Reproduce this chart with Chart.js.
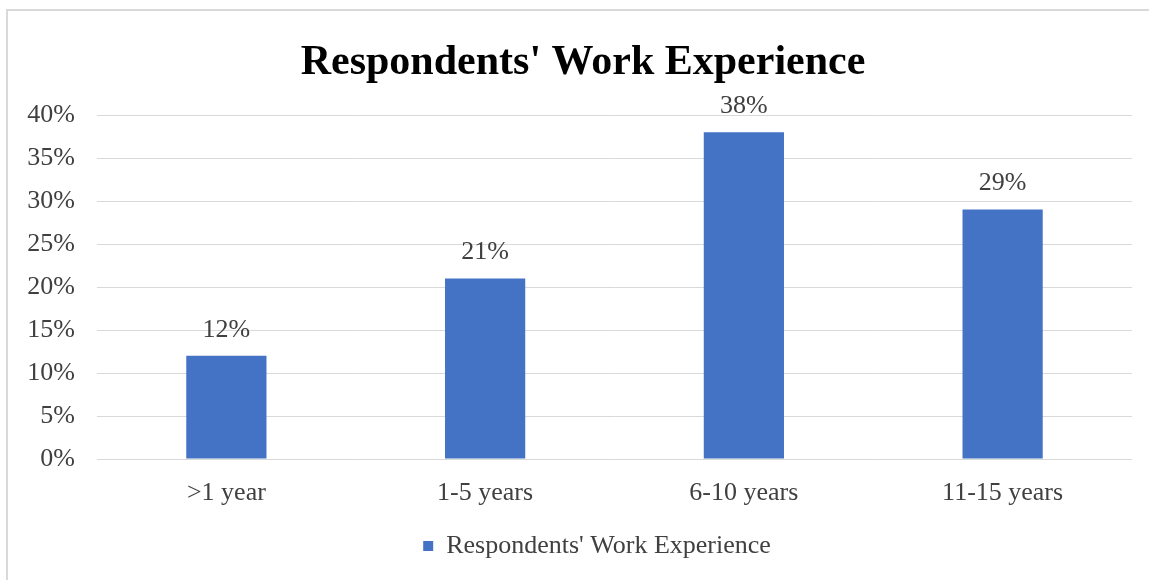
<!DOCTYPE html>
<html>
<head>
<meta charset="utf-8">
<script src="https://cdn.jsdelivr.net/npm/chart.js@4.4.1/dist/chart.umd.min.js"></script>
<style>
html,body{margin:0;padding:0;background:#fff;}
#frame{position:absolute;left:6px;top:9px;width:1143px;height:571px;border:2px solid #d9d9d9;border-right:none;border-bottom:none;box-sizing:border-box;}
#wrap{position:absolute;left:0;top:0;width:1149px;height:580px;}
</style>
</head>
<body>
<div id="frame"></div>
<div id="wrap"><canvas id="c" width="1149" height="580"></canvas></div>
<script>
const categories = [">1 year", "1-5 years", "6-10 years", "11-15 years"];
const values = [12, 21, 38, 29];
const seriesName = "Respondents' Work Experience";
const chartTitle = "Respondents' Work Experience";
const yTicks = [0, 5, 10, 15, 20, 25, 30, 35, 40];

const SERIF = "'Liberation Serif', 'Times New Roman', serif";
const TEXT = '#404040';

const dataLabels = {
  id: 'dataLabels',
  afterDatasetsDraw(chart) {
    const ctx = chart.ctx;
    const meta = chart.getDatasetMeta(0);
    ctx.save();
    ctx.font = '26px ' + SERIF;
    ctx.fillStyle = TEXT;
    ctx.textAlign = 'center';
    ctx.textBaseline = 'middle';
    meta.data.forEach((bar, i) => {
      ctx.fillText(values[i] + '%', bar.x, bar.y - 26);
    });
    ctx.restore();
  }
};

// shift the centring boxes of the title and legend a little to the right, as in the reference
const shiftBlocks = {
  id: 'shiftBlocks',
  afterLayout(chart) {
    if (chart.titleBlock) chart.titleBlock.left = 34;
    if (chart.legend) chart.legend.left = 62;
  }
};

new Chart(document.getElementById('c'), {
  type: 'bar',
  data: {
    labels: categories,
    datasets: [{
      label: seriesName,
      data: values,
      backgroundColor: '#4472C4',
      borderWidth: 0,
      categoryPercentage: 1,
      barPercentage: 0.31
    }]
  },
  options: {
    responsive: false,
    animation: false,
    layout: { padding: { top: 10, right: 17, bottom: 11, left: 0 } },
    plugins: {
      title: {
        display: true,
        text: chartTitle,
        color: '#000',
        font: { family: SERIF, size: 42, weight: 'bold' },
        padding: { top: 28, bottom: 26.6 }
      },
      legend: {
        display: true,
        position: 'bottom',
        labels: {
          color: TEXT,
          font: { family: SERIF, size: 26 },
          boxWidth: 10,
          boxHeight: 10,
          padding: 10
        }
      },
      tooltip: { enabled: false }
    },
    scales: {
      x: {
        grid: { display: false },
        border: { display: false },
        afterFit(scale) { scale.height = 64; },
        ticks: { color: TEXT, font: { family: SERIF, size: 26 }, padding: 11 }
      },
      y: {
        min: 0,
        max: 40,
        afterBuildTicks(scale) { scale.ticks = yTicks.map(v => ({ value: v })); },
        afterFit(scale) { scale.width = 97; },
        grid: { color: '#d9d9d9', lineWidth: 1, drawTicks: false },
        border: { display: false },
        ticks: {
          color: TEXT,
          font: { family: SERIF, size: 26 },
          padding: 22,
          callback: v => v + '%'
        }
      }
    }
  },
  plugins: [dataLabels, shiftBlocks]
});
</script>
</body>
</html>
